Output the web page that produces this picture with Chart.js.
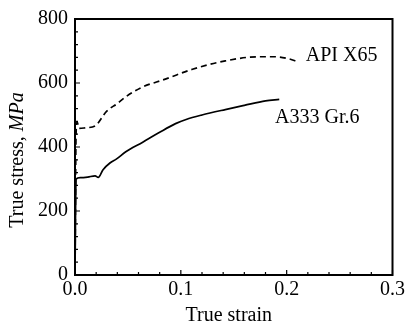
<!DOCTYPE html>
<html>
<head>
<meta charset="utf-8">
<script src="https://cdn.jsdelivr.net/npm/chart.js@4/dist/chart.umd.min.js"></script>
<style>
  html, body { margin: 0; padding: 0; background: #fff; }
  #wrap { width: 408px; height: 330px; }
</style>
</head>
<body>
<div id="wrap"><canvas id="canvas-stress"></canvas></div>
<script>
// curves (true strain, true stress in MPa)
var x65Strain  = [0, 0.001, 0.002, 0.004, 0.010, 0.019, 0.030, 0.040, 0.048, 0.064, 0.077, 0.086, 0.111, 0.142, 0.173, 0.189, 0.2015, 0.211];
var x65Stress  = [0, 440, 478, 458, 460, 466, 512, 536, 557, 588, 603, 613, 643, 669, 682, 682, 676, 666];
var a333Strain = [0, 0.001, 0.005, 0.012, 0.019, 0.022, 0.0265, 0.033, 0.039, 0.048, 0.064, 0.080, 0.095, 0.105, 0.120, 0.142, 0.160, 0.180, 0.193];
var a333Stress = [0, 300, 304, 306, 310, 305, 329, 350, 362, 385, 415, 446, 473, 486, 500, 517, 530, 544, 549];

var xTicks = [0, 0.1, 0.2, 0.3];
var yTicks = [0, 200, 400, 600, 800];

var seriesNames = ['API X65', 'A333 Gr.6'];

var serif = "'Liberation Serif', 'Times New Roman', serif";

function toPoints(xs, ys) {
    return xs.map(function(v, i){ return {x: v, y: ys[i]}; });
}

// frame, inward ticks, axis titles and curve labels
var framePlugin = {
    id: 'frame',
    afterDraw: function(chart){
        var ctx = chart.ctx;
        var a = chart.chartArea;
        var xs = chart.scales.x, ys = chart.scales.y;
        ctx.save();
        ctx.strokeStyle = '#000';
        ctx.lineWidth = 2;
        ctx.strokeRect(a.left, a.top, a.right - a.left, a.bottom - a.top);

        ctx.lineWidth = 1.2;
        ctx.beginPath();
        for (var i = 0; i <= 15; i++) {
            var px = xs.getPixelForValue(i * 0.02);
            var len = (i % 5 === 0) ? 5 : 3;
            ctx.moveTo(px, a.bottom);
            ctx.lineTo(px, a.bottom - len);
        }
        for (var j = 0; j <= 20; j++) {
            var py = ys.getPixelForValue(j * 40);
            var l2 = (j % 5 === 0) ? 5 : 3;
            ctx.moveTo(a.left, py);
            ctx.lineTo(a.left + l2, py);
        }
        ctx.stroke();

        ctx.fillStyle = '#000';
        ctx.font = '20px ' + serif;
        ctx.textAlign = 'center';
        ctx.textBaseline = 'middle';
        ctx.fillText('True strain', (a.left + a.right) / 2 - 5, 316);

        // y title, "MPa" in italics
        var t1 = 'True stress, ', t2 = 'MPa';
        ctx.font = '20px ' + serif;
        var w1 = ctx.measureText(t1).width;
        ctx.font = 'italic 20px ' + serif;
        var w2 = ctx.measureText(t2).width;
        ctx.translate(18, (a.top + a.bottom) / 2 + 13);
        ctx.rotate(-Math.PI / 2);
        ctx.textAlign = 'left';
        ctx.font = '20px ' + serif;
        ctx.fillText(t1, -(w1 + w2) / 2, 0);
        ctx.font = 'italic 20px ' + serif;
        ctx.fillText(t2, -(w1 + w2) / 2 + w1, 0);
        ctx.setTransform(1, 0, 0, 1, 0, 0);

        ctx.font = '20px ' + serif;
        ctx.textAlign = 'left';
        ctx.fillText(seriesNames[0], xs.getPixelForValue(0.218), ys.getPixelForValue(684));
        ctx.fillText(seriesNames[1], xs.getPixelForValue(0.189), ys.getPixelForValue(492));
        ctx.restore();
    }
};

var config = {
    type: 'scatter',
    data: {
        datasets: [{
            label: seriesNames[0],
            data: toPoints(x65Strain, x65Stress),
            showLine: true,
            borderColor: '#000',
            borderWidth: 1.7,
            borderDash: [6, 4],
            pointRadius: 0,
            cubicInterpolationMode: 'monotone'
        }, {
            label: seriesNames[1],
            data: toPoints(a333Strain, a333Stress),
            showLine: true,
            borderColor: '#000',
            borderWidth: 1.7,
            pointRadius: 0,
            cubicInterpolationMode: 'monotone'
        }]
    },
    options: {
        responsive: true,
        maintainAspectRatio: false,
        animation: false,
        layout: { padding: { left: 0, right: 13, top: 12, bottom: 0 } },
        plugins: {
            legend: { display: false },
            tooltip: { enabled: false }
        },
        scales: {
            x: {
                type: 'linear',
                min: 0, max: 0.3,
                grid: { display: false, drawTicks: false },
                border: { display: false },
                afterBuildTicks: function(s){ s.ticks = xTicks.map(function(v){ return {value: v}; }); },
                afterFit: function(s){ s.height = 55; },
                ticks: {
                    color: '#000',
                    padding: 3,
                    maxRotation: 0,
                    font: { family: serif, size: 20 },
                    callback: function(v){ return Number(v).toFixed(1); }
                }
            },
            y: {
                type: 'linear',
                min: 0, max: 800,
                grid: { display: false, drawTicks: false },
                border: { display: false },
                afterBuildTicks: function(s){ s.ticks = yTicks.map(function(v){ return {value: v}; }); },
                afterFit: function(s){ s.width = 75; },
                ticks: {
                    color: '#000',
                    padding: 7,
                    font: { family: serif, size: 20 }
                }
            }
        }
    },
    plugins: [framePlugin]
};

var stressChart = new Chart(document.getElementById('canvas-stress'), config);
</script>
</body>
</html>
